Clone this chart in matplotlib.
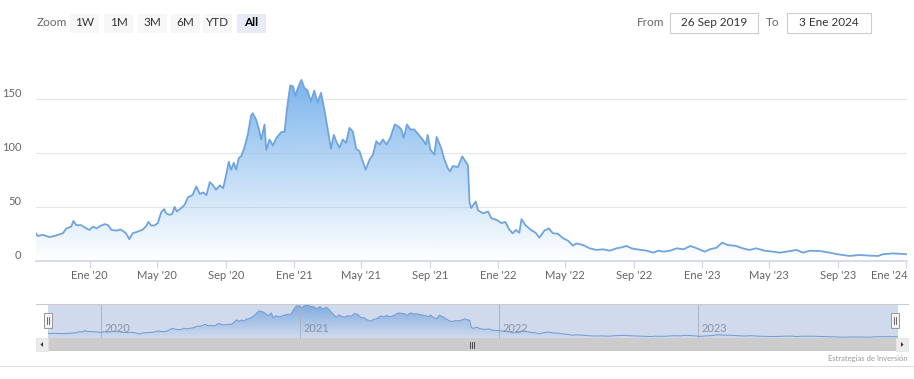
import numpy as np
import matplotlib
matplotlib.use("Agg")
import matplotlib.pyplot as plt
import matplotlib.dates as mdates
from matplotlib.patches import Rectangle, Polygon
from matplotlib.lines import Line2D
import matplotlib.transforms as mtransforms
import datetime as dt

plt.rcParams['font.family'] = ['Lato', 'DejaVu Sans']

# Price series
dates = [
    "2019-09-26", "2019-09-30", "2019-10-09", "2019-10-21", "2019-10-30", "2019-11-14",
    "2019-11-20", "2019-11-29", "2019-12-03", "2019-12-08", "2019-12-17", "2019-12-26",
    "2020-01-01", "2020-01-07", "2020-01-13", "2020-01-19", "2020-01-28", "2020-02-03",
    "2020-02-09", "2020-02-18", "2020-02-25", "2020-03-02", "2020-03-06", "2020-03-12",
    "2020-03-18", "2020-03-27", "2020-04-05", "2020-04-11", "2020-04-15", "2020-04-20",
    "2020-04-26", "2020-05-02", "2020-05-08", "2020-05-13", "2020-05-17", "2020-05-23",
    "2020-05-28", "2020-06-01", "2020-06-05", "2020-06-13", "2020-06-19", "2020-06-25",
    "2020-07-03", "2020-07-10", "2020-07-16", "2020-07-22", "2020-07-28", "2020-08-03",
    "2020-08-09", "2020-08-14", "2020-08-21", "2020-08-27", "2020-09-02", "2020-09-06",
    "2020-09-10", "2020-09-15", "2020-09-19", "2020-09-24", "2020-09-28", "2020-10-04",
    "2020-10-10", "2020-10-16", "2020-10-19", "2020-10-25", "2020-10-30", "2020-11-03",
    "2020-11-09", "2020-11-12", "2020-11-18", "2020-11-24", "2020-11-30", "2020-12-09",
    "2020-12-15", "2020-12-19", "2020-12-25", "2020-12-30", "2021-01-03", "2021-01-08",
    "2021-01-14", "2021-01-19", "2021-01-25", "2021-01-31", "2021-02-06", "2021-02-12",
    "2021-02-18", "2021-02-24", "2021-03-02", "2021-03-08", "2021-03-13", "2021-03-18",
    "2021-03-23", "2021-03-29", "2021-04-04", "2021-04-10", "2021-04-16", "2021-04-22",
    "2021-04-28", "2021-05-04", "2021-05-09", "2021-05-16", "2021-05-22", "2021-05-28",
    "2021-06-03", "2021-06-09", "2021-06-15", "2021-06-22", "2021-06-30", "2021-07-06",
    "2021-07-12", "2021-07-16", "2021-07-22", "2021-07-28", "2021-08-04", "2021-08-12",
    "2021-08-19", "2021-08-25", "2021-08-28", "2021-09-02", "2021-09-09", "2021-09-13",
    "2021-09-21", "2021-09-27", "2021-10-03", "2021-10-07", "2021-10-12", "2021-10-21",
    "2021-10-29", "2021-11-04", "2021-11-08", "2021-11-11", "2021-11-14", "2021-11-22",
    "2021-11-26", "2021-12-05", "2021-12-14", "2021-12-20", "2021-12-29", "2022-01-07",
    "2022-01-14", "2022-01-21", "2022-01-27", "2022-02-02", "2022-02-08", "2022-02-12",
    "2022-02-19", "2022-03-01", "2022-03-09", "2022-03-16", "2022-03-25", "2022-04-02",
    "2022-04-09", "2022-04-18", "2022-04-27", "2022-05-06", "2022-05-15", "2022-05-21",
    "2022-06-02", "2022-06-14", "2022-06-26", "2022-07-08", "2022-07-20", "2022-08-01",
    "2022-08-10", "2022-08-19", "2022-08-28", "2022-09-06", "2022-09-15", "2022-09-24",
    "2022-10-06", "2022-10-15", "2022-10-24", "2022-11-05", "2022-11-17", "2022-11-29",
    "2022-12-11", "2022-12-23", "2023-01-06", "2023-01-15", "2023-01-27", "2023-02-06",
    "2023-02-16", "2023-03-03", "2023-03-15", "2023-03-27", "2023-04-08", "2023-04-23",
    "2023-05-08", "2023-05-20", "2023-06-01", "2023-06-19", "2023-07-01", "2023-07-13",
    "2023-07-31", "2023-08-18", "2023-08-29", "2023-09-10", "2023-09-22", "2023-10-10",
    "2023-10-28", "2023-11-12", "2023-11-21", "2023-12-09", "2024-01-03",
]
prices = [
    26, 23, 24, 22, 23, 25.5,
    30, 31.7, 37, 33, 33, 30,
    28.6, 31.7, 30, 32, 34, 33,
    28.6, 28, 29, 27, 25.5, 20,
    25.5, 27, 29, 32, 36, 32.7,
    32.7, 35, 45, 48, 44, 42.6,
    43.6, 50, 45.7, 49, 52, 59,
    61, 69, 62, 63.5, 61, 73,
    70, 66, 70, 67.5, 81.5, 92,
    84.6, 91, 84.6, 95.5, 97, 105,
    117, 135, 137, 131, 122, 112.6,
    126.6, 103, 112.6, 107, 114, 119.5,
    120, 140.6, 163, 162, 153, 161,
    168, 161, 158, 148, 158, 147,
    156, 140.6, 122, 104, 117, 110,
    105, 112.6, 109.5, 123.5, 120, 104,
    101.7, 92, 84.6, 94, 98.6, 111,
    108, 112.6, 108, 114, 126.6, 125,
    122, 114, 126.6, 122, 122, 117,
    112.6, 108, 117, 103, 98.6, 115,
    105, 94, 86, 83, 88, 87,
    97, 92, 89, 53.5, 49, 55,
    47, 44, 45.7, 39.5, 38, 35,
    36, 29, 25.5, 28.6, 26, 38.6,
    33, 28.6, 26, 21.5, 28, 30,
    25.5, 25, 21, 18.7, 14, 16,
    14.6, 11.5, 10, 10.6, 9.3, 11.5,
    12.4, 13.7, 11.5, 10.6, 10, 9.3,
    7.5, 9.3, 8.4, 9.3, 11.5, 10.6,
    13.7, 11.5, 8.4, 10.6, 12, 16.8,
    14.6, 13.7, 11.5, 10, 11.5, 9.3,
    8.4, 7.5, 8.4, 10, 7.5, 9.3,
    9, 7.5, 6.2, 5.3, 4.4, 5.3,
    4.7, 4.4, 6, 6.8, 6,
]

y_ticks = [0, 50, 100, 150, 200]
x_tick_dates = ["2020-01-01", "2020-05-01", "2020-09-01", "2021-01-01", "2021-05-01",
                "2021-09-01", "2022-01-01", "2022-05-01", "2022-09-01", "2023-01-01",
                "2023-05-01", "2023-09-01", "2024-01-01"]
x_tick_labels = ["Ene '20", "May '20", "Sep '20", "Ene '21", "May '21", "Sep '21",
                 "Ene '22", "May '22", "Sep '22", "Ene '23", "May '23", "Sep '23", "Ene '24"]
nav_years = ["2020", "2021", "2022", "2023"]
zoom_buttons = ["1W", "1M", "3M", "6M", "YTD", "All"]

W, H = 914, 379
fig = plt.figure(figsize=(W / 100, H / 100), dpi=100)


def fx(px):
    return px / W


def fy(py):
    return 1 - py / H


t = mdates.date2num([dt.datetime.fromisoformat(d) for d in dates])
v = np.array(prices)
t0 = mdates.date2num(dt.datetime(2019, 9, 26))
t1 = mdates.date2num(dt.datetime(2024, 1, 3))

line_col = '#6fa5dc'
base_rgb = np.array([124, 181, 236]) / 255.0


def gradient_fill(ax, top_val, alpha_top=1.0):
    poly = ax.fill_between(t, v, 0, facecolor='none', edgecolor='none')
    n = 256
    frac = np.linspace(0, 1, n)[:, None]  # 0 bottom, 1 top
    img = np.ones((n, 2, 4))
    img[..., :3] = base_rgb
    img[..., 3] = (frac * alpha_top)
    im = ax.imshow(img, extent=[t0, t1, 0, top_val], origin='lower',
                   aspect='auto', zorder=1, interpolation='bilinear')
    path = poly.get_paths()[0]
    im.set_clip_path(path, transform=ax.transData)


# ---------------- main chart ----------------
ax = fig.add_axes([fx(35.5), fy(260.7), fx(907 - 35.5), (260.7 - 45.5) / H])
gradient_fill(ax, 168)
ax.plot(t, v, color=line_col, lw=1.3, zorder=3)
ax.set_xlim(t0, t1)
ax.set_ylim(0, 200)
for yv in y_ticks:
    ax.axhline(yv, color='#e6e6e6', lw=0.8, zorder=0)
    if yv < 200:
        ax.annotate(str(yv), xy=(0, yv), xycoords=('axes fraction', 'data'),
                    xytext=(-10, 4), textcoords='offset points',
                    ha='right', va='center', fontsize=8, color='#666666')
ax.set_yticks([])
for s in ['top', 'right', 'left']:
    ax.spines[s].set_visible(False)
ax.spines['bottom'].set_color('#ccd6eb')
ax.spines['bottom'].set_linewidth(1.2)
ax.set_xticks(mdates.date2num([dt.datetime.fromisoformat(d) for d in x_tick_dates]))
ax.set_xticklabels(x_tick_labels)
ax.tick_params(axis='x', length=5, width=0.8, color='#ccd6eb', pad=1.5,
               labelsize=8, labelcolor='#666666')
# last label kept inside the chart, as the original does
last = ax.get_xticklabels()[-1]
last.set_horizontalalignment('right')
last.set_transform(last.get_transform() + mtransforms.ScaledTranslation(2 / 100, 0, fig.dpi_scale_trans))
ax.set_facecolor('none')

# ---------------- navigator ----------------
nav = fig.add_axes([fx(48), fy(338), fx(898 - 48), (338 - 304) / H])
nav.set_xlim(t0, t1)
nav.set_ylim(0, 172)
gradient_fill(nav, 168, alpha_top=0.9)
nav.plot(t, v, color=line_col, lw=0.7, zorder=3)
for i, yr in enumerate(nav_years):
    xd = mdates.date2num(dt.datetime(int(yr), 1, 1))
    nav.axvline(xd, color='#c8c8c8', lw=0.7, zorder=2)
    nav.annotate(yr, xy=(xd, 0), xycoords=('data', 'axes fraction'),
                 xytext=(2.5, 3), textcoords='offset points',
                 ha='left', va='bottom', fontsize=8, color='#999999', zorder=4)
nav.add_patch(Rectangle((0, 0), 1, 1, transform=nav.transAxes,
                        facecolor=(102 / 255, 133 / 255, 194 / 255, 0.3),
                        edgecolor='none', zorder=5))
nav.set_xticks([])
nav.set_yticks([])
for s in nav.spines.values():
    s.set_visible(False)

# navigator outline + handles
fig.add_artist(Line2D([fx(35.5), fx(908)], [fy(303.5), fy(303.5)], color='#cccccc', lw=0.8))
for hx in [48, 895]:
    fig.add_artist(Rectangle((fx(hx - 4), fy(328)), fx(8), 15 / H, facecolor='#f2f2f2',
                             edgecolor='#999999', lw=0.7))
    for dx in [-1.2, 1.2]:
        fig.add_artist(Line2D([fx(hx + dx), fx(hx + dx)], [fy(317), fy(324)],
                              color='#333333', lw=0.5))

# scrollbar
fig.add_artist(Rectangle((fx(35.5), fy(351)), fx(908 - 35.5), 13 / H,
                         facecolor='#f2f2f2', edgecolor='none'))
fig.add_artist(Rectangle((fx(48), fy(351)), fx(896 - 48), 13 / H,
                         facecolor='#cccccc', edgecolor='none'))
fig.add_artist(Rectangle((fx(35.5), fy(351)), fx(12.5), 13 / H,
                         facecolor='#ebebeb', edgecolor='#e0e0e0', lw=0.5))
fig.add_artist(Rectangle((fx(896), fy(351)), fx(12), 13 / H,
                         facecolor='#ebebeb', edgecolor='#e0e0e0', lw=0.5))
fig.add_artist(Polygon([[fx(40.5), fy(344.5)], [fx(43), fy(342)], [fx(43), fy(347)]],
                       closed=True, facecolor='#333333', edgecolor='none'))
fig.add_artist(Polygon([[fx(903.5), fy(344.5)], [fx(901), fy(342)], [fx(901), fy(347)]],
                       closed=True, facecolor='#333333', edgecolor='none'))
for dx in [-2, 0, 2]:
    fig.add_artist(Line2D([fx(472 + dx), fx(472 + dx)], [fy(342), fy(348)],
                          color='#333333', lw=0.6))

# credit + bottom rule
fig.text(fx(908), fy(359), 'Estrategias de Inversión', ha='right', va='center',
         fontsize=5.5, color='#999999')
fig.add_artist(Line2D([0, 1], [fy(366), fy(366)], color='#dddddd', lw=0.8))

# ---------------- range selector ----------------
fig.text(fx(37), fy(23), 'Zoom', ha='left', va='center', fontsize=8.5, color='#666666')
bx = [70, 104, 138, 171, 203, 237]
for x0, lab in zip(bx, zoom_buttons):
    sel = lab == 'All'
    fig.add_artist(Rectangle((fx(x0), fy(33)), fx(29), 19 / H,
                             facecolor='#e6ebf5' if sel else '#f7f7f7', edgecolor='none'))
    fig.text(fx(x0 + 14.5), fy(23), lab, ha='center', va='center', fontsize=8.5,
             color='#000000' if sel else '#333333', fontweight='bold' if sel else 'normal')

fig.text(fx(637), fy(23), 'From', ha='left', va='center', fontsize=8.5, color='#666666')
fig.text(fx(766), fy(23), 'To', ha='left', va='center', fontsize=8.5, color='#666666')
for (x0, x1), lab in zip([(670, 758), (787, 871)], ['26 Sep 2019', '3 Ene 2024']):
    fig.add_artist(Rectangle((fx(x0), fy(33)), fx(x1 - x0), 20 / H,
                             facecolor='white', edgecolor='#cccccc', lw=0.8))
    fig.text(fx((x0 + x1) / 2), fy(23), lab, ha='center', va='center', fontsize=8.5,
             color='#333333')

fig.savefig('out.png', dpi=100)
